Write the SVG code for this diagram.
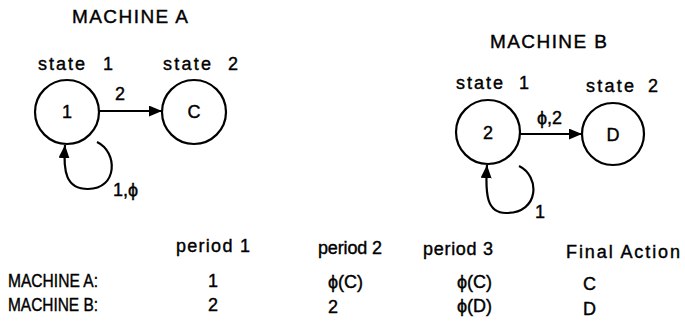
<svg xmlns="http://www.w3.org/2000/svg" width="685" height="333" viewBox="0 0 685 333">
<style>
text{font-family:"Liberation Sans",Arial,sans-serif;font-size:18px;fill:#000;stroke:#000;stroke-width:0.4}
.c{text-anchor:middle}
.t{font-size:19px}
.node circle{fill:none;stroke:#000;stroke-width:2.2}
.edge{fill:none;stroke:#000;stroke-width:2.2}
</style>
<defs>
<marker id="ah" viewBox="0 0 12 10" refX="12" refY="5" markerWidth="6" markerHeight="5" orient="auto" markerUnits="strokeWidth">
<path d="M0,0 L12,5 L0,10 z" fill="#000"/>
</marker>
</defs>
<rect width="685" height="333" fill="#fff"/>
<text class="t" x="72" y="23" textLength="116" lengthAdjust="spacing">MACHINE A</text>
<text x="38" y="70" textLength="47" lengthAdjust="spacing">state</text><text x="103" y="70">1</text>
<text x="163" y="70" textLength="48" lengthAdjust="spacing">state</text><text x="228" y="70">2</text>
<text class="t" x="490" y="48" textLength="117" lengthAdjust="spacing">MACHINE B</text>
<text x="456" y="89" textLength="47" lengthAdjust="spacing">state</text><text x="519" y="89">1</text>
<text x="586" y="92" textLength="48" lengthAdjust="spacing">state</text><text x="648" y="92">2</text>
<g id="a1" class="node"><circle cx="67" cy="112" r="32"/><text class="c" x="67" y="118">1</text></g>
<g id="aC" class="node"><circle cx="194" cy="112" r="32"/><text class="c" x="194" y="118">C</text></g>
<g id="b2" class="node"><circle cx="488" cy="132" r="32"/><text class="c" x="488" y="139">2</text></g>
<g id="bD" class="node"><circle cx="613" cy="134" r="31"/><text class="c" x="613" y="141">D</text></g>
<g id="connectors">
<path class="edge" d="M99,111 L162,111" marker-end="url(#ah)"/>
<path class="edge" d="M97,142 C118,152 118,189 88,189 C66,189 63,172 65,145" marker-end="url(#ah)"/>
<path class="edge" d="M520,134 L582,134" marker-end="url(#ah)"/>
<path class="edge" d="M519,166 C540,176 540,213 506,213 C487,213 485,195 487,165" marker-end="url(#ah)"/>
</g>
<text x="115" y="100">2</text>
<text x="113" y="196">1,ϕ</text>
<text x="537" y="124">ϕ,2</text>
<text x="535" y="218">1</text>
<text x="176" y="252" textLength="74" lengthAdjust="spacing">period 1</text>
<text x="318" y="254" textLength="64" lengthAdjust="spacing">period 2</text>
<text x="423" y="255" textLength="70" lengthAdjust="spacing">period 3</text>
<text x="566" y="258" textLength="114" lengthAdjust="spacing">Final Action</text>
<text x="8" y="287" textLength="90" lengthAdjust="spacingAndGlyphs">MACHINE A:</text>
<text x="208" y="287">1</text>
<text x="328" y="288">ϕ(C)</text>
<text x="457" y="288">ϕ(C)</text>
<text x="583" y="290">C</text>
<text x="8" y="311" textLength="90" lengthAdjust="spacingAndGlyphs">MACHINE B:</text>
<text x="208" y="311">2</text>
<text x="328" y="313">2</text>
<text x="457" y="312">ϕ(D)</text>
<text x="583" y="315">D</text>
</svg>
